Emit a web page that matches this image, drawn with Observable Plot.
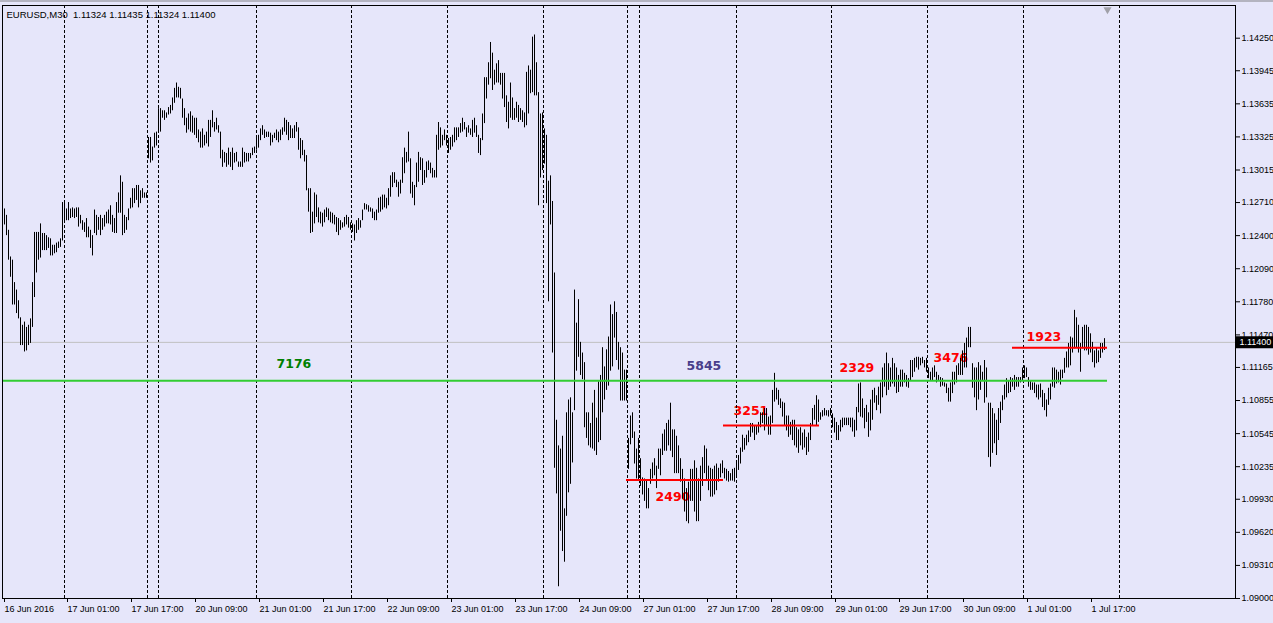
<!DOCTYPE html>
<html><head><meta charset="utf-8">
<script src="https://cdn.jsdelivr.net/npm/d3@7"></script>
<script src="https://cdn.jsdelivr.net/npm/@observablehq/plot@0.6"></script>
<style>
html,body{margin:0;padding:0;background:#E6E6FA;overflow:hidden;}
#wrap{position:relative;width:1273px;height:623px;}
#topbar{position:absolute;left:0;top:0;width:1273px;height:2px;background:#b4b4c0;}
</style>
</head><body>
<div id="wrap"><div id="topbar"></div></div>
<script>
// EURUSD M30 bars, index 0 = first visible bar
const high = [
1.1265,1.1259,1.1245,1.1220,1.1217,1.1196,1.1189,1.1179,1.1163,1.1156,
1.1159,1.1154,1.1156,1.1162,1.1196,1.1243,1.1243,1.1243,1.1251,1.1242,
1.1242,1.1240,1.1238,1.1237,1.1231,1.1231,1.1233,1.1234,1.1237,1.1271,
1.1271,1.1265,1.1271,1.1265,1.1266,1.1265,1.1266,1.1266,1.1259,1.1254,
1.1252,1.1256,1.1248,1.1245,1.1240,1.1264,1.1259,1.1257,1.1259,1.1256,
1.1259,1.1262,1.1264,1.1268,1.1259,1.1256,1.1271,1.1280,1.1296,1.1290,
1.1259,1.1257,1.1265,1.1275,1.1284,1.1284,1.1287,1.1287,1.1282,1.1284,
1.1280,1.1280,1.1332,1.1332,1.1323,1.1336,1.1337,1.1359,1.1359,1.1357,
1.1357,1.1355,1.1360,1.1362,1.1369,1.1378,1.1383,1.1379,1.1378,
1.1368,1.1359,1.1350,1.1354,1.1356,1.1352,1.1350,1.1350,1.1339,1.1337,1.1340,
1.1334,1.1337,1.1348,1.1348,1.1357,1.1346,1.1350,1.1343,1.1337,1.1320,
1.1318,1.1317,1.1322,1.1318,1.1322,1.1317,1.1318,1.1309,1.1309,1.1322,
1.1318,1.1317,1.1317,1.1317,1.1322,1.1323,1.1332,1.1334,1.1340,1.1343,
1.1339,1.1337,1.1337,1.1336,1.1334,1.1336,1.1339,1.1337,1.1339,1.1341,
1.1350,1.1348,1.1346,1.1343,1.1340,1.1343,1.1346,1.1341,1.1331,1.1329,
1.1320,1.1315,1.1284,1.1284,1.1262,1.1280,1.1278,1.1266,1.1262,1.1261,
1.1264,1.1266,1.1265,1.1262,1.1261,1.1259,1.1257,1.1256,1.1254,1.1252,
1.1257,1.1259,1.1257,1.1252,1.1251,1.1250,1.1254,1.1256,1.1254,
1.1264,1.1270,1.1269,1.1268,1.1266,1.1265,1.1262,1.1264,1.1275,1.1276,1.1278,
1.1278,1.1275,1.1284,1.1296,1.1299,1.1299,1.1292,1.1290,1.1292,1.1313,
1.1322,1.1318,1.1337,1.1312,1.1290,1.1287,1.1308,1.1318,1.1313,1.1312,
1.1301,1.1309,1.1310,1.1308,1.1303,1.1301,1.1334,1.1346,1.1341,1.1334,
1.1339,1.1334,1.1331,1.1332,1.1334,1.1341,1.1341,1.1341,1.1345,1.1350,
1.1346,1.1341,1.1343,1.1340,1.1348,1.1350,1.1343,1.1334,1.1331,1.1354,
1.1388,1.1388,1.1402,1.1421,1.1411,1.1395,1.1401,1.1404,1.1392,1.1392,
1.1392,1.1371,1.1365,1.1383,1.1369,1.1359,1.1365,1.1362,1.1359,1.1357,
1.1355,1.1393,1.1399,1.1395,1.1426,1.1428,1.1402,1.1374,1.1354,1.1355,
1.1340,1.1334,1.1291,1.1296,1.1272,1.1205,1.1067,1.1043,1.1040,1.1052,
1.0984,1.1074,1.1086,1.1088,1.1074,1.1189,1.1158,1.1180,1.1140,1.1130,
1.1121,1.1074,1.1074,1.1064,1.1083,1.1095,1.1069,1.1103,1.1109,1.1135,
1.1117,1.1133,1.1145,1.1175,1.1166,1.1178,1.1168,1.1140,1.1135,1.1130,
1.1114,1.1114,1.1050,1.1071,1.1074,1.1056,1.1040,1.1050,1.1031,1.1013,
1.1012,1.1010,1.1003,1.1021,1.1027,1.1031,1.1024,1.1040,1.1040,1.1054,
1.1058,1.1064,1.1067,1.1083,1.1058,1.1058,1.1052,1.1043,1.1031,1.1021,
1.1012,1.1003,1.1009,1.1021,1.1021,1.1029,1.1022,1.1012,1.1024,1.1032,
1.1043,1.1040,1.1024,1.1022,1.1021,1.1024,1.1026,1.1022,1.1026,1.1029,
1.1022,1.1021,1.1019,1.1017,1.1021,1.1022,1.1029,1.1034,1.1041,1.1053,
1.1050,1.1053,1.1057,1.1064,1.1064,1.1062,1.1062,1.1065,1.1074,1.1074,
1.1078,1.1078,1.1070,1.1071,1.1095,1.1111,1.1097,1.1095,1.1087,1.1084,
1.1083,1.1071,1.1071,1.1065,1.1067,1.1067,1.1060,1.1058,1.1060,1.1055,
1.1058,1.1051,1.1055,1.1064,1.1078,1.1081,1.1090,1.1086,1.1074,1.1076,
1.1078,1.1076,1.1076,1.1078,1.1073,1.1069,1.1065,1.1062,1.1067,1.1069,
1.1069,1.1069,1.1069,1.1069,1.1069,1.1067,1.1079,1.1101,1.1102,1.1087,
1.1078,1.1081,1.1074,1.1086,1.1095,1.1097,1.1090,1.1098,1.1102,1.1116,
1.1120,1.1130,1.1120,1.1116,1.1125,1.1120,1.1116,1.1109,1.1114,1.1114,
1.1111,1.1109,1.1106,1.1123,1.1123,1.1125,1.1126,1.1126,1.1125,1.1126,
1.1123,1.1125,1.1116,1.1112,1.1116,1.1118,1.1112,1.1109,1.1107,1.1106,
1.1102,1.1101,1.1097,1.1102,1.1112,1.1112,1.1118,1.1120,1.1125,1.1132,
1.1139,1.1144,1.1154,1.1154,1.1120,1.1116,1.1116,1.1121,1.1118,1.1112,
1.1123,1.1116,1.1083,1.1083,1.1078,1.1073,1.1067,1.1078,1.1084,1.1090,
1.1100,1.1106,1.1104,1.1107,1.1106,1.1109,1.1107,1.1107,1.1107,1.1116,
1.1118,1.1116,1.1107,1.1104,1.1102,1.1102,1.1100,1.1100,1.1101,1.1095,
1.1092,1.1086,1.1097,1.1101,1.1116,1.1116,1.1114,1.1112,1.1114,1.1114,
1.1125,1.1131,1.1139,1.1145,1.1144,1.1170,1.1163,1.1156,1.1139,1.1154,
1.1156,1.1156,1.1154,1.1148,1.1140,1.1132,1.1135,1.1132,1.1139,1.1139,
1.11435
];
const low = [
1.1250,1.1240,1.1217,1.1201,1.1175,1.1175,1.1167,1.1162,1.1137,1.1137,
1.1131,1.1132,1.1137,1.1139,1.1154,1.1182,1.1205,1.1217,1.1219,1.1226,
1.1226,1.1226,1.1228,1.1221,1.1221,1.1223,1.1224,1.1228,1.1229,1.1235,
1.1252,1.1254,1.1254,1.1256,1.1257,1.1256,1.1257,1.1248,1.1251,1.1245,
1.1243,1.1238,1.1238,1.1228,1.1221,1.1242,1.1240,1.1245,1.1240,1.1245,
1.1248,1.1251,1.1251,1.1250,1.1243,1.1242,1.1242,1.1261,1.1261,1.1240,
1.1242,1.1245,1.1254,1.1265,1.1266,1.1270,1.1273,1.1266,1.1270,1.1275,
1.1275,1.1275,1.1312,1.1308,1.1310,1.1322,1.1324,1.1337,1.1337,1.1350,
1.1348,1.1350,1.1353,1.1354,1.1357,1.1364,1.1369,1.1369,1.1368,
1.1350,1.1343,1.1336,1.1339,1.1337,1.1336,1.1334,1.1331,1.1327,1.1322,1.1322,
1.1324,1.1326,1.1323,1.1332,1.1341,1.1337,1.1339,1.1336,1.1312,1.1304,
1.1308,1.1304,1.1306,1.1304,1.1301,1.1308,1.1309,1.1304,1.1304,1.1304,
1.1308,1.1309,1.1309,1.1312,1.1315,1.1317,1.1320,1.1322,1.1329,1.1334,
1.1331,1.1332,1.1332,1.1324,1.1327,1.1331,1.1329,1.1327,1.1329,1.1334,
1.1337,1.1334,1.1329,1.1331,1.1331,1.1331,1.1337,1.1320,1.1312,1.1315,
1.1309,1.1282,1.1262,1.1242,1.1243,1.1251,1.1257,1.1252,1.1251,1.1248,
1.1252,1.1257,1.1254,1.1252,1.1251,1.1250,1.1243,1.1240,1.1245,1.1247,
1.1248,1.1250,1.1247,1.1245,1.1243,1.1235,1.1242,1.1245,1.1247,
1.1254,1.1264,1.1264,1.1262,1.1262,1.1256,1.1254,1.1254,1.1261,1.1262,1.1264,
1.1266,1.1265,1.1268,1.1276,1.1285,1.1289,1.1285,1.1276,1.1279,1.1289,
1.1298,1.1308,1.1309,1.1279,1.1275,1.1268,1.1285,1.1290,1.1301,1.1287,
1.1289,1.1294,1.1301,1.1298,1.1294,1.1294,1.1294,1.1320,1.1322,1.1324,
1.1329,1.1324,1.1317,1.1320,1.1323,1.1327,1.1329,1.1332,1.1336,1.1337,
1.1339,1.1332,1.1336,1.1334,1.1332,1.1336,1.1332,1.1317,1.1315,1.1329,
1.1345,1.1368,1.1381,1.1387,1.1376,1.1381,1.1383,1.1383,1.1381,1.1368,
1.1360,1.1346,1.1340,1.1350,1.1348,1.1348,1.1350,1.1346,1.1348,1.1346,
1.1341,1.1343,1.1354,1.1373,1.1374,1.1371,1.1371,1.1268,1.1294,1.1301,
1.1307,1.1270,1.1178,1.1250,1.1130,1.1022,1.0998,1.0911,1.0963,1.0944,
1.0934,1.0977,1.0999,1.1007,1.1027,1.1076,1.1113,1.1126,1.1109,1.1105,
1.1060,1.1050,1.1043,1.1041,1.1040,1.1038,1.1034,1.1046,1.1048,1.1074,
1.1086,1.1095,1.1099,1.1113,1.1117,1.1144,1.1123,1.1114,1.1085,1.1085,
1.1085,1.1085,1.1021,1.1044,1.1050,1.1026,1.1012,1.1010,1.1005,1.0997,
1.0991,1.0984,1.0984,1.1007,1.1012,1.1015,1.1003,1.1021,1.1015,1.1034,
1.1038,1.1038,1.1043,1.1038,1.1032,1.1017,1.1017,1.1017,1.1009,1.0993,
1.0981,1.0972,1.0970,1.0991,1.0991,1.0981,1.0972,1.0972,1.0991,1.1005,
1.1017,1.1010,1.1001,1.0995,1.0995,1.0997,1.1001,1.1009,1.1013,1.1017,
1.1012,1.1010,1.1009,1.1010,1.1010,1.1009,1.1015,1.1020,1.1026,1.1037,
1.1039,1.1043,1.1046,1.1051,1.1055,1.1048,1.1053,1.1055,1.1060,1.1064,
1.1057,1.1062,1.1053,1.1053,1.1064,1.1084,1.1086,1.1081,1.1078,1.1070,
1.1062,1.1057,1.1051,1.1053,1.1048,1.1043,1.1041,1.1036,1.1043,1.1039,
1.1041,1.1034,1.1037,1.1048,1.1062,1.1067,1.1062,1.1065,1.1067,1.1070,
1.1071,1.1071,1.1070,1.1071,1.1060,1.1055,1.1048,1.1048,1.1056,1.1060,
1.1062,1.1062,1.1062,1.1060,1.1056,1.1051,1.1057,1.1074,1.1070,1.1069,
1.1059,1.1065,1.1051,1.1057,1.1067,1.1083,1.1076,1.1081,1.1073,1.1088,
1.1098,1.1090,1.1095,1.1098,1.1101,1.1098,1.1092,1.1093,1.1098,1.1098,
1.1102,1.1098,1.1097,1.1104,1.1107,1.1112,1.1116,1.1114,1.1118,1.1120,
1.1116,1.1112,1.1106,1.1104,1.1104,1.1107,1.1102,1.1104,1.1098,1.1099,
1.1098,1.1092,1.1084,1.1084,1.1092,1.1100,1.1102,1.1109,1.1109,1.1109,
1.1116,1.1116,1.1135,1.1135,1.1097,1.1088,1.1076,1.1086,1.1095,1.1104,
1.1083,1.1088,1.1032,1.1023,1.1036,1.1045,1.1034,1.1048,1.1064,1.1076,
1.1086,1.1088,1.1092,1.1093,1.1098,1.1095,1.1098,1.1098,1.1102,1.1104,
1.1106,1.1107,1.1098,1.1095,1.1095,1.1092,1.1088,1.1086,1.1088,1.1079,
1.1076,1.1070,1.1081,1.1086,1.1098,1.1097,1.1101,1.1102,1.1100,1.1106,
1.1111,1.1116,1.1116,1.1118,1.1130,1.1134,1.1135,1.1130,1.1112,1.1134,
1.1132,1.1132,1.1128,1.1130,1.1121,1.1116,1.1120,1.1121,1.1125,1.1130,
1.11324
];

// axis ticks
const xTickIdx = [-0.5, 31, 63, 95, 127, 159, 191, 223, 255, 287, 319, 351, 383, 415, 447, 479, 511, 543];
const xTickLabels = ["16 Jun 2016","17 Jun 01:00","17 Jun 17:00","20 Jun 09:00","21 Jun 01:00","21 Jun 17:00",
  "22 Jun 09:00","23 Jun 01:00","23 Jun 17:00","24 Jun 09:00","27 Jun 01:00","27 Jun 17:00","28 Jun 09:00",
  "29 Jun 01:00","29 Jun 17:00","30 Jun 09:00","1 Jul 01:00","1 Jul 17:00"];
const yTicks = [1.14250,1.13945,1.13635,1.13325,1.13015,1.12710,1.12400,1.12090,1.11780,1.11470,
  1.11165,1.10855,1.10545,1.10235,1.09930,1.09620,1.09310,1.09000];

// period separators (bar index positions)
const separators = [30, 71.5, 77, 126, 173.5, 221.5, 269.5, 311.5, 317.5, 366, 413.5, 461.5, 509.5, 557.5];

// levels
const bidPrice = 1.11400;
const greenLevel = 1.1104, greenFrom = -0.5, greenTo = 551.5;
const redPrice = [1.1011, 1.1062, 1.1135];
const redFrom = [311, 359.5, 504];
const redTo = [359.5, 407.5, 551.5];

// text labels
const labelText = ["7176","5845","2490","3251","2329","3476","1923"];
const labelIdx = [136, 341, 325.5, 364.5, 417.5, 464.5, 511];
const labelPrice = [1.1120, 1.1118, 1.0995, 1.1076, 1.1116, 1.1125, 1.1145];
const labelColor = ["#008000","#483D8B","red","red","red","red","red"];

const title = "EURUSD,M30\u00a0\u00a01.11324 1.11435 1.11324 1.11400";
const shiftIdx = 551.5;

const xDomain = [-1, 615.5];
const yDomain = [1.09, 1.145564];

const bars = d3.range(high.length).map(i => ({i, h: high[i], l: low[i]}));
const labels = labelText.map((t, k) => ({t, i: labelIdx[k], p: labelPrice[k], c: labelColor[k]}));
const reds = redPrice.map((p, k) => ({p, a: redFrom[k], b: redTo[k]}));

const chart = Plot.plot({
  width: 1273, height: 623,
  marginLeft: 2, marginRight: 38, marginTop: 5, marginBottom: 25,
  x: {domain: xDomain, axis: null},
  y: {domain: yDomain, axis: null},
  style: {background: "#E6E6FA", fontFamily: "'Liberation Sans', Arial, sans-serif", fontSize: "9px", color: "black"},
  marks: [
    Plot.text(labels, {x: "i", y: "p", text: "t", fill: "c", textAnchor: "start", lineAnchor: "middle",
      fontSize: 12.5, fontWeight: "bold", fontFamily: "'DejaVu Sans', sans-serif"}),
    Plot.ruleX(separators, {x: d => d, stroke: "black", strokeDasharray: "3,2"}),
    Plot.ruleY([bidPrice], {y: d => d, stroke: "#C0C0C0"}),
    Plot.ruleX(bars, {x: "i", y1: "l", y2: "h", stroke: "black"}),
    Plot.ruleY([greenLevel], {y: d => d, x1: greenFrom, x2: greenTo, stroke: "#32CD32", strokeWidth: 2}),
    Plot.ruleY(reds, {y: "p", x1: "a", x2: "b", stroke: "red", strokeWidth: 2}),
    Plot.frame({stroke: "black"}),
    Plot.axisX(xTickIdx, {anchor: "bottom", tickSize: 4, tickPadding: 3, textAnchor: "start", dx: 1,
      tickFormat: d => xTickLabels[xTickIdx.indexOf(d)], fontSize: 9}),
    Plot.axisY(yTicks, {anchor: "right", tickSize: 4, tickPadding: 2, tickFormat: d => d.toFixed(5), fontSize: 9}),
    Plot.ruleY([bidPrice], {y: d => d, x1: xDomain[1], x2: xDomain[1] + 19, stroke: "black", strokeWidth: 12}),
    Plot.text([bidPrice], {x: xDomain[1], y: d => d, text: d => d.toFixed(5), fill: "white", textAnchor: "start", dx: 4, fontSize: 9}),
    Plot.text([title], {frameAnchor: "top-left", text: d => d, dx: 4, dy: 9, textAnchor: "start", lineAnchor: "middle", fontSize: 9.5}),
    Plot.dot([shiftIdx], {x: d => d, frameAnchor: "top", symbol: "triangle", r: 3, fill: "#A0A0A8", rotate: 180, dy: 4})
  ]
});
document.getElementById("wrap").prepend(chart);
</script>
</body></html>
